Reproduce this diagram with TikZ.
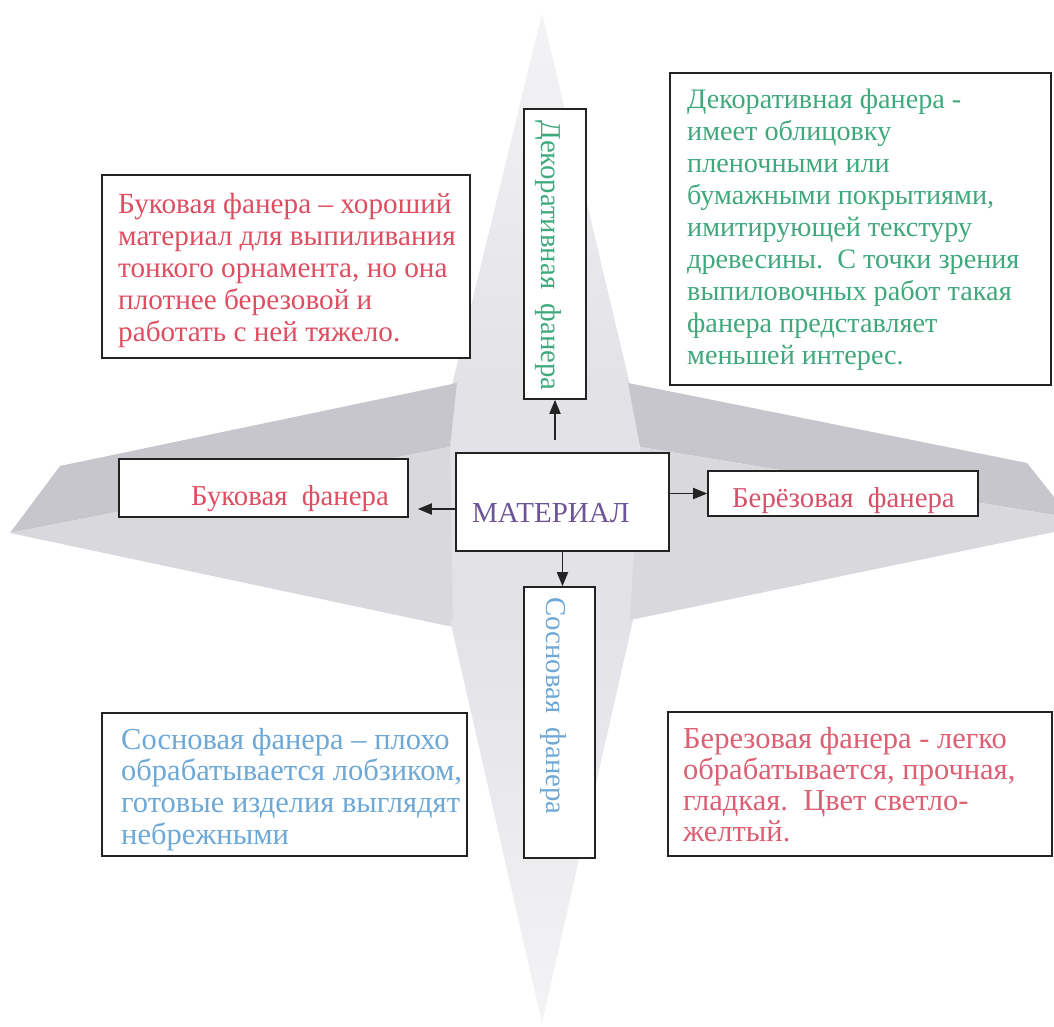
\documentclass[tikz,border=0pt]{standalone}
\usepackage{fontspec}
\setmainfont{Liberation Serif}
\usetikzlibrary{arrows.meta,calc}
\definecolor{redA}{RGB}{222,78,96}
\definecolor{redB}{RGB}{220,95,115}
\definecolor{redC}{RGB}{214,80,106}
\definecolor{greenA}{RGB}{64,168,125}
\definecolor{blueA}{RGB}{110,168,214}
\definecolor{purpleA}{RGB}{108,84,150}
\definecolor{lineC}{RGB}{35,35,35}
\definecolor{faceDark}{RGB}{198,198,204}
\definecolor{faceMid}{RGB}{216,216,221}
\definecolor{faceLight}{RGB}{226,226,231}
\definecolor{faceTop}{RGB}{244,244,246}
\tikzset{
  boxx/.style={draw=lineC, line width=1.6pt, fill=white, inner sep=0, minimum width=#1},
  ptext/.style={anchor=base west, inner sep=0},
  ltext/.style={anchor=base west, inner sep=0, font=\fontsize{28.8}{31}\selectfont},
  arr/.style={draw=lineC, line width=1.8pt, -{Triangle[length=14pt,width=11pt]}},
}
\begin{document}
\begin{tikzpicture}[x=1pt,y=-1pt]
\useasboundingbox (0,0) rectangle (1054,1027);
\fill[white] (0,0) rectangle (1054,1027);
% star background
\shade[top color=faceTop, bottom color=faceLight] (542,13) -- (452,385) -- (630,385) -- cycle;
\fill[faceLight] (452,384) -- (630,384) -- (640,450) -- (633,621) -- (450,621) -- (450,450) -- cycle;
\fill[faceDark] (457,383) -- (60,466) -- (10,533) -- (450,447) -- cycle;
\fill[faceMid] (10,533) -- (453,627) -- (450,447) -- cycle;
\fill[faceDark] (628,383) -- (1027,463) -- (1054,497) -- (1054,515) -- (640,447) -- cycle;
\fill[faceMid] (1054,515) -- (1054,532) -- (630,620) -- (640,447) -- cycle;
\shade[top color=faceLight, bottom color=faceTop] (450,620) -- (633,620) -- (542,1023) -- cycle;
% boxes
\node[boxx=368pt, minimum height=183pt] (tl) at (286,266.5) {};
\node[boxx=381pt, minimum height=312pt] (tr) at (860.5,229) {};
\node[boxx=365pt, minimum height=143pt] (bl) at (284.5,784.5) {};
\node[boxx=384pt, minimum height=144pt] (br) at (860,784) {};
\node[boxx=62pt, minimum height=290pt] (d) at (555,254) {};
\node[boxx=71pt, minimum height=271pt] (s) at (559.5,722.5) {};
\node[boxx=289pt, minimum height=58pt] (l) at (263.5,488) {};
\node[boxx=270pt, minimum height=45pt] (r) at (843,493.5) {};
\node[boxx=213pt, minimum height=98pt] (c) at (562.5,502) {};
% texts
\node[ptext, text=redA, font=\fontsize{29.2}{31.8}\selectfont] (tlt) at (118,214) {\parbox[t]{360pt}{\raggedright
Буковая фанера – хороший\\
материал для выпиливания\\
тонкого орнамента, но она\\
плотнее березовой и\\
работать с ней тяжело.}};
\node[ptext, text=greenA, font=\fontsize{28.2}{32}\selectfont] (trt) at (687,109) {\parbox[t]{370pt}{\raggedright
Декоративная фанера -\\
имеет облицовку\\
пленочными или\\
бумажными покрытиями,\\
имитирующей текстуру\\
древесины.\ \ С точки зрения\\
выпиловочных работ такая\\
фанера представляет\\
меньшей интерес.}};
\node[ptext, text=blueA, font=\fontsize{30.5}{31.8}\selectfont] (blt) at (121,749) {\parbox[t]{360pt}{\raggedright
Сосновая фанера – плохо\\
обрабатывается лобзиком,\\
готовые изделия выглядят\\
небрежными}};
\node[ptext, text=redB, font=\fontsize{30.5}{31}\selectfont] (brt) at (683,748) {\parbox[t]{370pt}{\raggedright
Березовая фанера - легко\\
обрабатывается, прочная,\\
гладкая.\ \ Цвет светло-\\
желтый.}};
\node[ltext, text=greenA, rotate=-90] (dt) at (541,120) {Декоративная\ \ фанера};
\node[ltext, text=blueA, rotate=-90] (st) at (546,597) {Сосновая\ \ фанера};
\node[ltext, text=redA] (lt) at (191,505) {Буковая\ \ фанера};
\node[ltext, text=redC] (rt) at (732,507) {Берёзовая\ \ фанера};
\node[anchor=base west, inner sep=0, font=\fontsize{29}{32}\selectfont, text=purpleA] (ct) at (472,522) {МАТЕРИАЛ};
% connectors
\draw[arr] ([yshift=12pt]c.north -| d.south) -- (d.south);
\draw[arr] ([yshift=-7pt]c.west) -- ([xshift=9pt,yshift=-7pt]c.west -| l.east);
\draw[arr] (c.east |- r.west) -- (r.west);
\draw[arr] (c.south) -- (c.south |- s.north);
\end{tikzpicture}
\end{document}
